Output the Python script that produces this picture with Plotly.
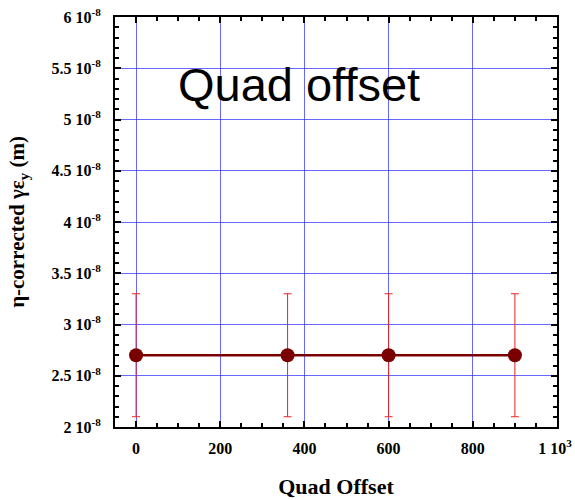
import plotly.graph_objects as go

quad_offset = [0, 360, 600, 900]
emittance = [2.7e-8, 2.7e-8, 2.7e-8, 2.7e-8]
err = [0.6e-8, 0.6e-8, 0.6e-8, 0.6e-8]

xtick_vals = [0, 200, 400, 600, 800, 1000]
xtick_text = ["0", "200", "400", "600", "800", "1 10<sup>3</sup>&nbsp;"]
ytick_vals = [2e-8, 2.5e-8, 3e-8, 3.5e-8, 4e-8, 4.5e-8, 5e-8, 5.5e-8, 6e-8]
ytick_text = ["2 10<sup>-8</sup>", "2.5 10<sup>-8</sup>", "3 10<sup>-8</sup>", "3.5 10<sup>-8</sup>",
              "4 10<sup>-8</sup>", "4.5 10<sup>-8</sup>", "5 10<sup>-8</sup>", "5.5 10<sup>-8</sup>",
              "6 10<sup>-8</sup>"]

fig = go.Figure()
fig.add_trace(go.Scatter(
    x=quad_offset, y=emittance, mode="lines+markers",
    line=dict(color="#7a0000", width=2.5),
    marker=dict(color="#7a0000", size=14),
    error_y=dict(type="data", array=err, visible=True, color="#ee2020", thickness=1, width=4),
    showlegend=False,
))

fig.add_annotation(x=388, y=5.34e-8, text="Quad offset", showarrow=False,
                   font=dict(family="Liberation Sans, Arial", size=47, color="black"))

serif = "Liberation Serif, Times New Roman"
axis_font = dict(family=serif, size=16, color="black", weight="bold")

fig.update_xaxes(
    range=[-50, 1000], tickvals=xtick_vals, ticktext=xtick_text,
    ticks="inside", ticklen=6, tickwidth=1.5, tickcolor="black",
    minor=dict(ticks="inside", dtick=50, ticklen=4, tickcolor="black", showgrid=False),
    showline=True, linecolor="black", linewidth=2, mirror="allticks",
    showgrid=True, gridcolor="rgba(40,40,255,0.7)", gridwidth=1,
    zeroline=False, tickfont=axis_font, ticklabelstandoff=6, automargin=False,
    ticklabeloverflow="allow",
    title=dict(text="Quad Offset", font=dict(family=serif, size=22, color="black", weight="bold"), standoff=22),
)
fig.update_yaxes(
    range=[2e-8, 6e-8], tickvals=ytick_vals, ticktext=ytick_text,
    ticks="inside", ticklen=6, tickwidth=1.5, tickcolor="black",
    minor=dict(ticks="inside", dtick=0.1e-8, ticklen=4, tickcolor="black", showgrid=False),
    showline=True, linecolor="black", linewidth=2, mirror="allticks",
    showgrid=True, gridcolor="rgba(40,40,255,0.7)", gridwidth=1,
    zeroline=False, tickfont=axis_font, ticklabelstandoff=9, automargin=False,
    ticklabeloverflow="allow",
    title=dict(text="η-corrected γε<sub>y</sub> (m)", font=dict(family=serif, size=21, color="black", weight="bold"), standoff=21),
)

fig.update_layout(
    width=575, height=500,
    margin=dict(l=115, r=18, t=17, b=73),
    paper_bgcolor="white", plot_bgcolor="white",
    font=dict(family=serif, color="black"),
)

# remove the default 8px page margin so the figure fills the window exactly
fig.write_html("out.html",
               config={"displayModeBar": False},
               post_script="document.body.style.margin='0';document.body.style.overflow='hidden';")
